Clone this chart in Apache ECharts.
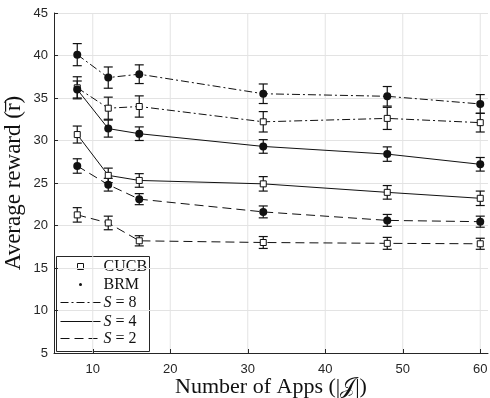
<!DOCTYPE html>
<html>
<head>
<meta charset="utf-8">
<script src="https://cdn.jsdelivr.net/npm/echarts@6/dist/echarts.min.js"></script>
<style>
  html, body { margin: 0; padding: 0; background: #fff; }
  #main { width: 490px; height: 398px; }
</style>
</head>
<body>
<div id="main"></div>
<script>
// number of apps
var apps = [8, 12, 16, 32, 48, 60];
var xTicks = [10, 20, 30, 40, 50, 60];

// BRM (filled circles)
var brmS8 = [40.1, 37.4, 37.8, 35.5, 35.2, 34.3];
var brmS8Err = [1.3, 1.25, 1.1, 1.15, 1.15, 1.1];
var brmS4 = [36.0, 31.4, 30.8, 29.3, 28.4, 27.2];
var brmS4Err = [1.0, 1.0, 0.8, 0.8, 0.85, 0.8];
var brmS2 = [27.0, 24.8, 23.1, 21.6, 20.6, 20.45];
var brmS2Err = [0.85, 0.75, 0.65, 0.7, 0.7, 0.65];

// CUCB (open squares)
var cucbS8 = [36.2, 33.8, 34.0, 32.2, 32.6, 32.1];
var cucbS8Err = [1.3, 1.3, 1.25, 1.2, 1.3, 1.1];
var cucbS4 = [30.7, 25.9, 25.3, 24.9, 23.9, 23.2];
var cucbS4Err = [1.0, 0.85, 0.8, 0.85, 0.8, 0.85];
var cucbS2 = [21.25, 20.3, 18.2, 18.0, 17.9, 17.85];
var cucbS2Err = [0.85, 0.8, 0.6, 0.7, 0.7, 0.65];

var dashDot = [8, 3, 2, 3];
var dashed = [9, 5];
var ink = '#111';

function pairs(ys) {
  return apps.map(function (x, i) { return [x, ys[i]]; });
}
function errData(ys, es) {
  return apps.map(function (x, i) { return [x, ys[i], es[i]]; });
}

function lineSeries(name, ys, dash, isBrm) {
  return {
    name: name,
    type: 'line',
    data: pairs(ys),
    z: 3,
    symbol: isBrm ? 'circle' : 'rect',
    symbolSize: isBrm ? 8 : 6,
    itemStyle: isBrm
      ? { color: ink, borderColor: ink, borderWidth: 0 }
      : { color: '#fff', borderColor: ink, borderWidth: 1 },
    lineStyle: { color: ink, width: 1, type: dash },
    animation: false
  };
}

function errSeries(ys, es) {
  return {
    type: 'custom',
    data: errData(ys, es),
    z: 2,
    animation: false,
    renderItem: function (params, api) {
      var x = api.value(0), y = api.value(1), e = api.value(2);
      var top = api.coord([x, y + e]);
      var bot = api.coord([x, y - e]);
      var w = 4.5;
      var st = { stroke: ink, lineWidth: 1.2 };
      return {
        type: 'group',
        children: [
          { type: 'line', shape: { x1: top[0], y1: top[1], x2: bot[0], y2: bot[1] }, style: st },
          { type: 'line', shape: { x1: top[0] - w, y1: top[1], x2: top[0] + w, y2: top[1] }, style: st },
          { type: 'line', shape: { x1: bot[0] - w, y1: bot[1], x2: bot[0] + w, y2: bot[1] }, style: st }
        ]
      };
    }
  };
}

var chart = echarts.init(document.getElementById('main'), null, { renderer: 'canvas' });

var tickFont = { fontFamily: 'Liberation Sans, Arial, sans-serif', fontSize: 13, color: '#262626' };
var serif = 'Liberation Serif, DejaVu Serif, serif';

var legendX = 56, legendY = 256;
var rowY = [10, 28, 46, 65, 82];

function legendLabel(y, txt) {
  return {
    type: 'text', x: 47, y: y,
    style: {
      text: txt, font: '16px ' + serif, fill: ink, verticalAlign: 'middle',
      rich: { i: { fontStyle: 'italic', fontFamily: serif, fontSize: 16, fill: ink } }
    }
  };
}

chart.setOption({
  backgroundColor: '#fff',
  animation: false,
  grid: { left: 54, right: 2, top: 13, bottom: 45, outerBoundsMode: 'none', containLabel: false },
  xAxis: {
    type: 'value',
    min: 5,
    max: 61,
    name: 'Number of Apps (|𝒥|)',
    nameLocation: 'middle',
    nameGap: 23,
    nameMoveOverlap: false,
    nameTextStyle: { fontFamily: serif, fontSize: 22, color: '#111' },
    axisLine: { lineStyle: { color: '#262626', width: 1 } },
    axisTick: { inside: true, length: 4, customValues: xTicks, lineStyle: { color: '#262626' } },
    axisLabel: Object.assign({ margin: 10, customValues: xTicks }, tickFont),
    splitLine: { show: false }
  },
  yAxis: {
    type: 'value',
    min: 5,
    max: 45,
    interval: 5,
    name: 'Average reward (r̅)',
    nameLocation: 'middle',
    nameGap: 29,
    nameMoveOverlap: false,
    nameTextStyle: { fontFamily: serif, fontSize: 23, color: '#111' },
    axisLine: { show: true, lineStyle: { color: '#262626', width: 1 } },
    axisTick: { show: true, inside: true, length: 4, lineStyle: { color: '#262626' } },
    axisLabel: Object.assign({ margin: 6 }, tickFont),
    splitLine: { show: true, lineStyle: { color: '#e3e3e3', width: 1 } }
  },
  series: [
    {
      // vertical grid lines at x ticks
      type: 'custom',
      data: xTicks.map(function (v) { return [v, 5]; }),
      z: 0,
      silent: true,
      animation: false,
      renderItem: function (params, api) {
        var p1 = api.coord([api.value(0), 5]);
        var p2 = api.coord([api.value(0), 45]);
        return { type: 'line', shape: { x1: p1[0], y1: p1[1], x2: p2[0], y2: p2[1] }, style: { stroke: '#e3e3e3', lineWidth: 1 } };
      }
    },
    errSeries(brmS8, brmS8Err),
    errSeries(cucbS8, cucbS8Err),
    errSeries(brmS4, brmS4Err),
    errSeries(cucbS4, cucbS4Err),
    errSeries(brmS2, brmS2Err),
    errSeries(cucbS2, cucbS2Err),
    lineSeries('BRM S=8', brmS8, dashDot, true),
    lineSeries('CUCB S=8', cucbS8, dashDot, false),
    lineSeries('BRM S=4', brmS4, 'solid', true),
    lineSeries('CUCB S=4', cucbS4, 'solid', false),
    lineSeries('BRM S=2', brmS2, dashed, true),
    lineSeries('CUCB S=2', cucbS2, dashed, false)
  ],
  graphic: [{
    type: 'group',
    left: legendX,
    top: legendY,
    z: 10,
    children: [
      { type: 'rect', shape: { x: 0, y: 0, width: 93, height: 95 }, style: { fill: '#fff', stroke: '#262626', lineWidth: 1 } },
      { type: 'rect', shape: { x: 21, y: rowY[0] - 3, width: 6, height: 6 }, style: { fill: '#fff', stroke: ink, lineWidth: 1 } },
      { type: 'circle', shape: { cx: 24, cy: rowY[1], r: 1.5 }, style: { fill: ink } },
      { type: 'line', shape: { x1: 4, y1: rowY[2], x2: 44, y2: rowY[2] }, style: { stroke: ink, lineWidth: 1, lineDash: dashDot } },
      { type: 'line', shape: { x1: 4, y1: rowY[3], x2: 44, y2: rowY[3] }, style: { stroke: ink, lineWidth: 1 } },
      { type: 'line', shape: { x1: 4, y1: rowY[4], x2: 44, y2: rowY[4] }, style: { stroke: ink, lineWidth: 1, lineDash: dashed } },
      legendLabel(rowY[0], 'CUCB'),
      legendLabel(rowY[1], 'BRM'),
      legendLabel(rowY[2], '{i|S} = 8'),
      legendLabel(rowY[3], '{i|S} = 4'),
      legendLabel(rowY[4], '{i|S} = 2')
    ]
  }]
});
</script>
</body>
</html>
